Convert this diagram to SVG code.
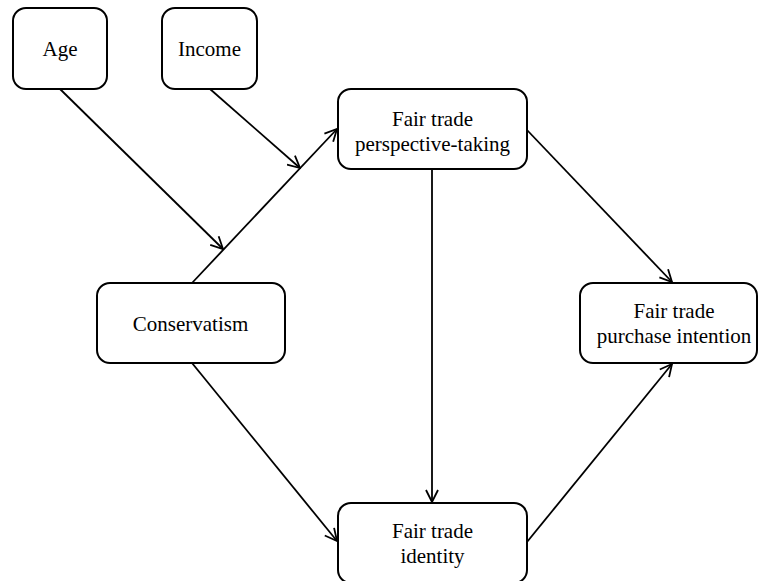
<svg xmlns="http://www.w3.org/2000/svg" width="758" height="581" viewBox="0 0 758 581">
  <style>
    .box { fill: #ffffff; stroke: #000000; stroke-width: 2; }
    .lbl { font-family: "Liberation Serif", "Times New Roman", serif; font-size: 21px; fill: #000000; text-anchor: middle; }
    .edge { fill: none; stroke: #000000; stroke-width: 1.8; marker-end: url(#arrow); }
  </style>
  <defs>
    <marker id="arrow" viewBox="0 0 14 14" refX="13" refY="7" markerWidth="14" markerHeight="14" markerUnits="userSpaceOnUse" orient="auto">
      <path d="M1,1 L13,7 L1,13" fill="none" stroke="#000000" stroke-width="1.8"/>
    </marker>
  </defs>
  <rect width="758" height="581" fill="#ffffff"/>

  <g id="connectors">
    <line class="edge" x1="192" y1="283" x2="337" y2="129"/>
    <line class="edge" x1="60" y1="89" x2="223" y2="249"/>
    <line class="edge" x1="210" y1="89" x2="300" y2="168"/>
    <line class="edge" x1="527" y1="130" x2="672" y2="282"/>
    <line class="edge" x1="432" y1="169" x2="432" y2="502"/>
    <line class="edge" x1="192" y1="363" x2="337" y2="541"/>
    <line class="edge" x1="527" y1="542" x2="672" y2="364"/>
  </g>

  <g id="age">
    <rect class="box" x="13" y="8" width="94" height="81" rx="13"/>
    <text class="lbl" x="60" y="56">Age</text>
  </g>
  <g id="income">
    <rect class="box" x="162" y="8" width="95" height="81" rx="13"/>
    <text class="lbl" x="209.5" y="56">Income</text>
  </g>
  <g id="perspective-taking">
    <rect class="box" x="338" y="89" width="189" height="80" rx="13"/>
    <text class="lbl" x="432.5" y="126">Fair trade</text>
    <text class="lbl" x="432.5" y="151">perspective-taking</text>
  </g>
  <g id="conservatism">
    <rect class="box" x="97" y="283" width="188" height="80" rx="13"/>
    <text class="lbl" x="190.5" y="331">Conservatism</text>
  </g>
  <g id="purchase-intention">
    <rect class="box" x="580" y="283" width="177" height="80" rx="13"/>
    <text class="lbl" x="674" y="318">Fair trade</text>
    <text class="lbl" x="674" y="343">purchase intention</text>
  </g>
  <g id="identity">
    <rect class="box" x="338" y="503" width="189" height="80" rx="13"/>
    <text class="lbl" x="432.5" y="538">Fair trade</text>
    <text class="lbl" x="432.5" y="563">identity</text>
  </g>
</svg>
